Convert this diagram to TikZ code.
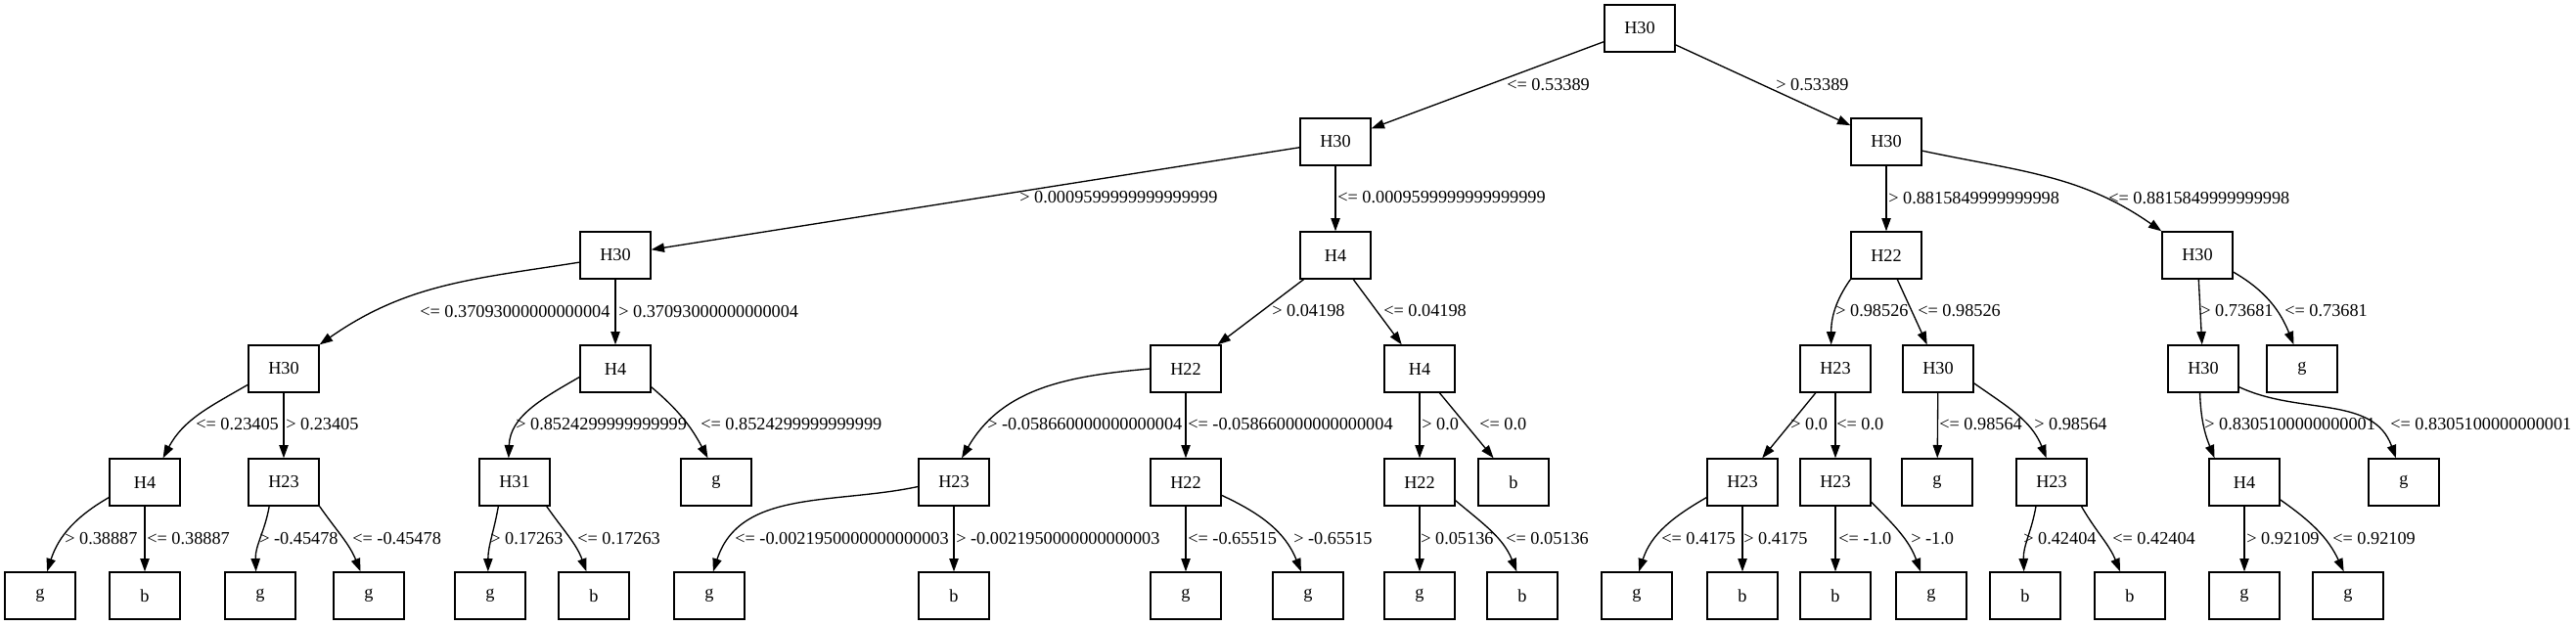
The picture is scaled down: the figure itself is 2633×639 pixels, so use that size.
\documentclass[tikz,border=0pt]{standalone}
\usepackage{fontspec}
\setmainfont{Liberation Serif}
\usetikzlibrary{arrows.meta}

\begin{document}
\begin{tikzpicture}[x=0.75pt,y=0.75pt,
		box/.style={draw,rectangle,line width=1pt,minimum width=54pt,minimum height=36pt,inner sep=2pt,font=\fontsize{13.7}{16}\selectfont},
		cond/.style={anchor=west,inner sep=0pt,font=\fontsize{13.7}{16}\selectfont},
		edge/.style={line width=1pt,-{Triangle[length=10pt,width=7pt]}}]
				\useasboundingbox (0,0) rectangle (2633,-639);
				\node[name=r,box] at (1676,-29){H30};
				\node[name=h30a,box] at (1365,-145){H30};
				\node[name=h30b,box] at (1928,-145){H30};
				\node[name=h30c,box] at (629,-261){H30};
				\node[name=h4a,box] at (1365,-261){H4};
				\node[name=h22a,box] at (1928,-261){H22};
				\node[name=h30d,box] at (2246,-261){H30};
				\node[name=h30e,box] at (290,-377){H30};
				\node[name=h4b,box] at (629,-377){H4};
				\node[name=h22b,box] at (1212,-377){H22};
				\node[name=h4c,box] at (1451,-377){H4};
				\node[name=h23a,box] at (1876,-377){H23};
				\node[name=h30f,box] at (1981,-377){H30};
				\node[name=h30g,box] at (2252,-377){H30};
				\node[name=g1,box] at (2353,-377){g};
				\node[name=h4d,box] at (148,-493){H4};
				\node[name=h23b,box] at (290,-493){H23};
				\node[name=h31,box] at (526,-493){H31};
				\node[name=g2,box] at (732,-493){g};
				\node[name=h23c,box] at (975,-493){H23};
				\node[name=h22c,box] at (1212,-493){H22};
				\node[name=h22d,box] at (1451,-493){H22};
				\node[name=b1,box] at (1547,-493){b};
				\node[name=h23d,box] at (1781,-493){H23};
				\node[name=h23e,box] at (1876,-493){H23};
				\node[name=g3,box] at (1980,-493){g};
				\node[name=h23f,box] at (2097,-493){H23};
				\node[name=h4e,box] at (2294,-493){H4};
				\node[name=g4,box] at (2457,-493){g};
				\node[name=g5,box] at (41,-609){g};
				\node[name=b2,box] at (148,-609){b};
				\node[name=g6,box] at (266,-609){g};
				\node[name=g7,box] at (377,-609){g};
				\node[name=g8,box] at (501,-609){g};
				\node[name=b3,box] at (607,-609){b};
				\node[name=g9,box] at (725,-609){g};
				\node[name=b4,box] at (975,-609){b};
				\node[name=g10,box] at (1212,-609){g};
				\node[name=g11,box] at (1337,-609){g};
				\node[name=g12,box] at (1451,-609){g};
				\node[name=b5,box] at (1556,-609){b};
				\node[name=g13,box] at (1673,-609){g};
				\node[name=b6,box] at (1781,-609){b};
				\node[name=b7,box] at (1876,-609){b};
				\node[name=g14,box] at (1974,-609){g};
				\node[name=b8,box] at (2070,-609){b};
				\node[name=b9,box] at (2177,-609){b};
				\node[name=g15,box] at (2294,-609){g};
				\node[name=g16,box] at (2400,-609){g};
				\draw[edge] (r) -- (h30a);
				\draw[edge] (r) -- (h30b);
				\draw[edge] (h30a) -- (h30c);
				\draw[edge] (h30a) -- (h4a);
				\draw[edge] (h30b) -- (h22a);
				\draw[edge] (h30b.-14) to[out=-12,in=145] (h30d.north west);
				\draw[edge] (h30c.-169) to[out=-171,in=35] (h30e.north east);
				\draw[edge] (h30c) -- (h4b);
				\draw[edge] (h4a) -- (h22b);
				\draw[edge] (h4a) -- (h4c);
				\draw[edge] (h22a.south west) to[out=-125,in=90] (h23a.100);
				\draw[edge] (h22a) -- (h30f);
				\draw[edge] (h30d) -- (h30g);
				\draw[edge] (h30d.-25) to[out=-30,in=112] (g1.109);
				\draw[edge] (h30e.-156) to[out=-150,in=62] (h4d.53);
				\draw[edge] (h30e) -- (h23b);
				\draw[edge] (h4b.-167) to[out=-150,in=88] (h31.104);
				\draw[edge] (h4b.-27) to[out=-40,in=118] (g2.109);
				\draw[edge] (h22b.west) to[out=-175,in=60] (h23c.72);
				\draw[edge] (h22b) -- (h22c);
				\draw[edge] (h4c) -- (h22d);
				\draw[edge] (h4c) -- (b1);
				\draw[edge] (h23a) -- (h23d);
				\draw[edge] (h23a) -- (h23e);
				\draw[edge] (h30f) -- (g3);
				\draw[edge] (h30f.-22) to[out=-35,in=112] (h23f.102);
				\draw[edge] (h30g.-98) to[out=-88,in=112] (h4e.141);
				\draw[edge] (h30g.-27) to[out=-25,in=110] (g4.108);
				\draw[edge] (h4d.-157) to[out=-150,in=72] (g5.74);
				\draw[edge] (h4d) -- (b2);
				\draw[edge] (h23b.-121) to[out=-100,in=92] (g6.100);
				\draw[edge] (h23b.south east) to[out=-55,in=112] (g7.109);
				\draw[edge] (h31.-124) to[out=-100,in=90] (g8.95);
				\draw[edge] (h31.-37) to[out=-55,in=110] (b3.107);
				\draw[edge] (h23c.-173) to[out=-168,in=72] (g9.81);
				\draw[edge] (h23c) -- (b4);
				\draw[edge] (h22c) -- (g10);
				\draw[edge] (h22c.-20) to[out=-25,in=112] (g11.106);
				\draw[edge] (h22d) -- (g12);
				\draw[edge] (h22d.-27) to[out=-40,in=112] (b5.103);
				\draw[edge] (h23d.-157) to[out=-150,in=72] (g13.85);
				\draw[edge] (h23d) -- (b6);
				\draw[edge] (h23e) -- (b7);
				\draw[edge] (h23e.-29) to[out=-45,in=110] (g14.114);
				\draw[edge] (h23f.-123) to[out=-100,in=92] (b8.93);
				\draw[edge] (h23f.-39) to[out=-60,in=112] (b9.112);
				\draw[edge] (h4e) -- (g15);
				\draw[edge] (h4e.-26) to[out=-35,in=115] (g16.100);
				\node[name=c1,cond] at (1540,-87){<= 0.53389};
				\node[name=c2,cond] at (1815,-87){> 0.53389};
				\node[name=c3,cond] at (1042,-202){> 0.0009599999999999999};
				\node[name=c4,cond] at (1367,-202){<= 0.0009599999999999999};
				\node[name=c5,cond] at (1930,-203){> 0.8815849999999998};
				\node[name=c6,cond] at (2155,-203){<= 0.8815849999999998};
				\node[name=c7,cond] at (429,-319){<= 0.37093000000000004};
				\node[name=c8,cond] at (632,-319){> 0.37093000000000004};
				\node[name=c9,cond] at (1300,-318){> 0.04198};
				\node[name=c10,cond] at (1414,-318){<= 0.04198};
				\node[name=c11,cond] at (1876,-318){> 0.98526};
				\node[name=c12,cond] at (1960,-318){<= 0.98526};
				\node[name=c13,cond] at (2249,-318){> 0.73681};
				\node[name=c14,cond] at (2335,-318){<= 0.73681};
				\node[name=c15,cond] at (200,-434){<= 0.23405};
				\node[name=c16,cond] at (292,-434){> 0.23405};
				\node[name=c17,cond] at (527,-434){> 0.8524299999999999};
				\node[name=c18,cond] at (716,-434){<= 0.8524299999999999};
				\node[name=c19,cond] at (1009,-434){> -0.058660000000000004};
				\node[name=c20,cond] at (1214,-434){<= -0.058660000000000004};
				\node[name=c21,cond] at (1453,-434){> 0.0};
				\node[name=c22,cond] at (1512,-434){<= 0.0};
				\node[name=c23,cond] at (1830,-434){> 0.0};
				\node[name=c24,cond] at (1877,-434){<= 0.0};
				\node[name=c25,cond] at (1982,-434){<= 0.98564};
				\node[name=c26,cond] at (2079,-434){> 0.98564};
				\node[name=c27,cond] at (2253,-434){> 0.8305100000000001};
				\node[name=c28,cond] at (2443,-434){<= 0.8305100000000001};
				\node[name=c29,cond] at (66,-551){> 0.38887};
				\node[name=c30,cond] at (150,-551){<= 0.38887};
				\node[name=c31,cond] at (265,-551){> -0.45478};
				\node[name=c32,cond] at (360,-551){<= -0.45478};
				\node[name=c33,cond] at (501,-551){> 0.17263};
				\node[name=c34,cond] at (590,-551){<= 0.17263};
				\node[name=c35,cond] at (751,-551){<= -0.0021950000000000003};
				\node[name=c36,cond] at (977,-551){> -0.0021950000000000003};
				\node[name=c37,cond] at (1214,-551){<= -0.65515};
				\node[name=c38,cond] at (1322,-551){> -0.65515};
				\node[name=c39,cond] at (1452,-551){> 0.05136};
				\node[name=c40,cond] at (1539,-551){<= 0.05136};
				\node[name=c41,cond] at (1698,-551){<= 0.4175};
				\node[name=c42,cond] at (1782,-551){> 0.4175};
				\node[name=c43,cond] at (1879,-551){<= -1.0};
				\node[name=c44,cond] at (1953,-551){> -1.0};
				\node[name=c45,cond] at (2068,-551){> 0.42404};
				\node[name=c46,cond] at (2159,-551){<= 0.42404};
				\node[name=c47,cond] at (2296,-551){> 0.92109};
				\node[name=c48,cond] at (2384,-551){<= 0.92109};
			\end{tikzpicture}
\end{document}
